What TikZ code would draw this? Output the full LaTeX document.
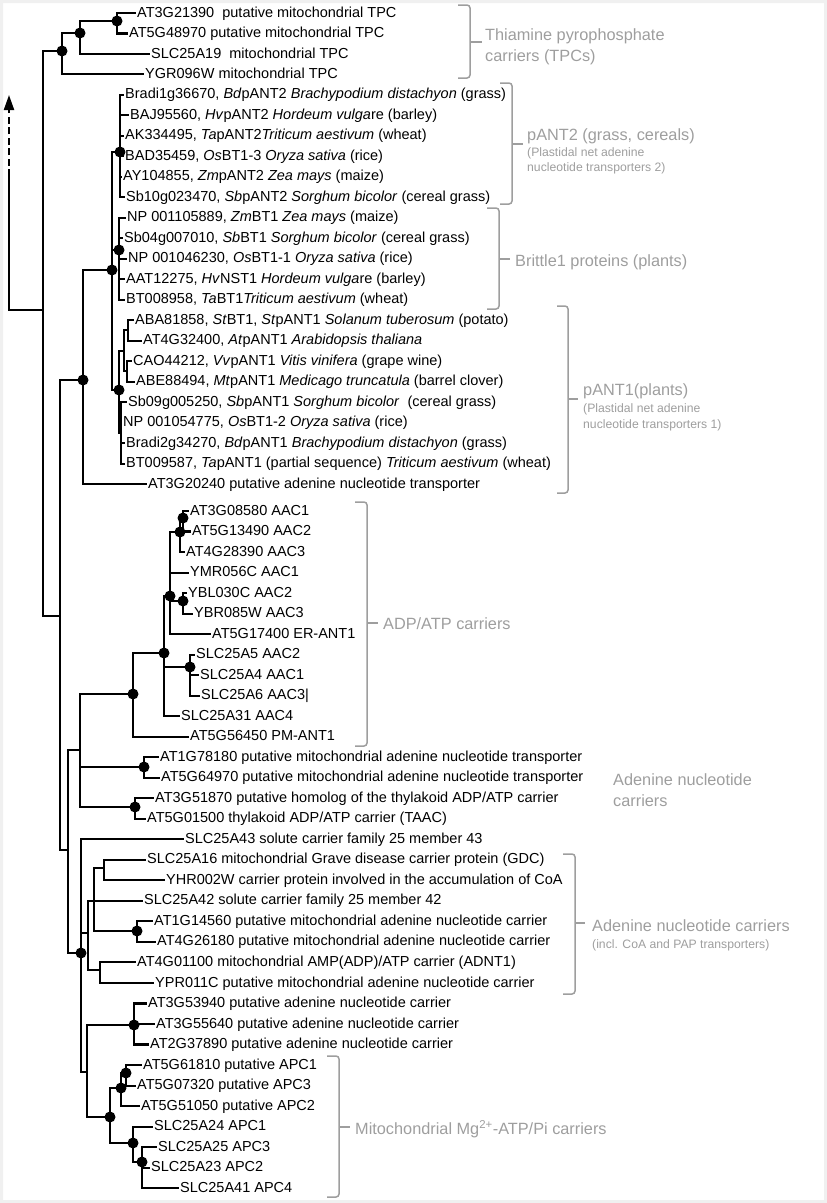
\documentclass[tikz,border=0pt]{standalone}
\usepackage{fontspec}
\setmainfont{Liberation Sans}
\usetikzlibrary{arrows.meta}
\definecolor{labgray}{RGB}{158,158,158}
\newcommand\leafsize{\fontsize{14.5}{16}\selectfont}
\newcommand\lblsize{\fontsize{16.3}{18}\selectfont}
\newcommand\subsize{\fontsize{12.2}{14}\selectfont}
\begin{document}
\begin{tikzpicture}[x=1pt,y=-1pt,
  br/.style={line width=2.1pt, line cap=rect},
  leaf/.style={anchor=west, inner xsep=2pt, inner ysep=0pt, text height=8pt, text depth=0pt, font=\leafsize},
  lab/.style={anchor=west, inner sep=0pt, text height=11pt, text depth=0pt, text=labgray, font=\lblsize},
  sublab/.style={anchor=west, inner sep=0pt, text height=8.5pt, text depth=0pt, text=labgray, font=\subsize},
  brk/.style={draw=labgray, line width=1.5pt, rounded corners=3pt}]
\useasboundingbox (0,0) rectangle (827,1203);
\fill[gray!12, even odd rule] (0,0) rectangle (827,1203) (3,3) rectangle (824,1200);

% ---------- internal nodes ----------
\coordinate (root) at (9,310);
\coordinate (dashstart) at (9,176);
\coordinate (tip) at (9,95);
\coordinate (n1) at (43,310);
\coordinate (t0) at (62,51);
\coordinate (t1) at (80,33);
\coordinate (t2) at (117,21);
\coordinate (n2) at (60,616);
\coordinate (pl) at (83,380);
\coordinate (p) at (112,270);
\coordinate (a2) at (120,152);
\coordinate (bt) at (119,250);
\coordinate (a1) at (119,390);
\coordinate (b) at (124,351);
\coordinate (a) at (128,330);
\coordinate (c) at (127,371);
\coordinate (d) at (121,433);
\coordinate (n3) at (68,850);
\coordinate (n4) at (80,750);
\coordinate (e) at (133,694);
\coordinate (f) at (164,653);
\coordinate (g) at (170,596);
\coordinate (h) at (180,532);
\coordinate (h2) at (183,518);
\coordinate (ye) at (183,601);
\coordinate (s) at (190,667);
\coordinate (pr1) at (144,767);
\coordinate (pr2) at (135,807);
\coordinate (n5) at (81,953);
\coordinate (k) at (88,933);
\coordinate (m) at (94,901);
\coordinate (gd) at (104,868);
\coordinate (ap) at (137,931);
\coordinate (q) at (100,970);
\coordinate (l) at (87,1072);
\coordinate (tr) at (134,1025);
\coordinate (u) at (110,1117);
\coordinate (v) at (121,1088);
\coordinate (v2) at (126,1073);
\coordinate (w) at (133,1143);
\coordinate (xx) at (142,1162);

% ---------- leaves ----------
\node[leaf] (L1) at (135,13) {AT3G21390~ putative mitochondrial TPC};
\node[leaf] (L2) at (127,33.5) {AT5G48970 putative mitochondrial TPC};
\node[leaf] (L3) at (149,54) {SLC25A19~ mitochondrial TPC};
\node[leaf] (L4) at (143,74.4) {YGR096W mitochondrial TPC};
\node[leaf] (L5) at (123,94.9) {Bradi1g36670, \textit{Bd}pANT2 \textit{Brachypodium distachyon} (grass)};
\node[leaf] (L6) at (128,115.4) {BAJ95560, \textit{Hv}pANT2 \textit{Hordeum vulga}re (barley)};
\node[leaf] (L7) at (123,135.9) {AK334495, \textit{Ta}pANT2\textit{Triticum aestivum} (wheat)};
\node[leaf] (L8) at (123,156.4) {BAD35459, \textit{Os}BT1-3 \textit{Oryza sativa} (rice)};
\node[leaf] (L9) at (121,176.8) {AY104855, \textit{Zm}pANT2 \textit{Zea mays} (maize)};
\node[leaf] (L10) at (124,197.3) {Sb10g023470, \textit{Sb}pANT2 \textit{Sorghum bicolor} (cereal grass)};
\node[leaf] (L11) at (125,217.8) {NP 001105889, \textit{Zm}BT1 \textit{Zea mays} (maize)};
\node[leaf] (L12) at (122,238.3) {Sb04g007010, \textit{Sb}BT1 \textit{Sorghum bicolor} (cereal grass)};
\node[leaf] (L13) at (126,258.8) {NP 001046230, \textit{Os}BT1-1 \textit{Oryza sativa} (rice)};
\node[leaf] (L14) at (124,279.2) {AAT12275, \textit{Hv}NST1 \textit{Hordeum vulga}re (barley)};
\node[leaf] (L15) at (124,299.7) {BT008958, \textit{Ta}BT1\textit{Triticum aestivum} (wheat)};
\node[leaf] (L16) at (133,320.2) {ABA81858, \textit{St}BT1, \textit{St}pANT1 \textit{Solanum tuberosum} (potato)};
\node[leaf] (L17) at (141,340.7) {AT4G32400, \textit{At}pANT1 \textit{Arabidopsis thaliana}};
\node[leaf] (L18) at (131,361.2) {CAO44212, \textit{Vv}pANT1 \textit{Vitis vinifera} (grape wine)};
\node[leaf] (L19) at (134,381.6) {ABE88494, \textit{Mt}pANT1 \textit{Medicago truncatula} (barrel clover)};
\node[leaf] (L20) at (126,402.1) {Sb09g005250, \textit{Sb}pANT1 \textit{Sorghum bicolor}~ (cereal grass)};
\node[leaf] (L21) at (121,422.6) {NP 001054775, \textit{Os}BT1-2 \textit{Oryza sativa} (rice)};
\node[leaf] (L22) at (124,443.1) {Bradi2g34270, \textit{Bd}pANT1 \textit{Brachypodium distachyon} (grass)};
\node[leaf] (L23) at (124,463.6) {BT009587, \textit{Ta}pANT1 (partial sequence) \textit{Triticum aestivum} (wheat)};
\node[leaf] (L24) at (146,484) {AT3G20240 putative adenine nucleotide transporter};
\node[leaf] (L25) at (188,511) {AT3G08580 AAC1};
\node[leaf] (L26) at (190,531.5) {AT5G13490 AAC2};
\node[leaf] (L27) at (184,552) {AT4G28390 AAC3};
\node[leaf] (L28) at (188,572.6) {YMR056C AAC1};
\node[leaf] (L29) at (186,593.1) {YBL030C AAC2};
\node[leaf] (L30) at (192,613.6) {YBR085W AAC3};
\node[leaf] (L31) at (210,634.1) {AT5G17400 ER-ANT1};
\node[leaf] (L32) at (194,654.6) {SLC25A5 AAC2};
\node[leaf] (L33) at (198,675.2) {SLC25A4 AAC1};
\node[leaf] (L34) at (199,695.7) {SLC25A6 AAC3|};
\node[leaf] (L35) at (179,716.2) {SLC25A31 AAC4};
\node[leaf] (L36) at (188,736.7) {AT5G56450 PM-ANT1};
\node[leaf] (L37) at (158,757.2) {AT1G78180 putative mitochondrial adenine nucleotide transporter};
\node[leaf] (L38) at (159,777.8) {AT5G64970 putative mitochondrial adenine nucleotide transporter};
\node[leaf] (L39) at (153,798.3) {AT3G51870 putative homolog of the thylakoid ADP/ATP carrier};
\node[leaf] (L40) at (145,818.8) {AT5G01500 thylakoid ADP/ATP carrier (TAAC)};
\node[leaf] (L41) at (183,839.3) {SLC25A43 solute carrier family 25 member 43};
\node[leaf] (L42) at (145,859.8) {SLC25A16 mitochondrial Grave disease carrier protein (GDC)};
\node[leaf] (L43) at (164,880.4) {YHR002W carrier protein involved in the accumulation of CoA};
\node[leaf] (L44) at (142,900.9) {SLC25A42 solute carrier family 25 member 42};
\node[leaf] (L45) at (152,921.4) {AT1G14560 putative mitochondrial adenine nucleotide carrier};
\node[leaf] (L46) at (155,941.9) {AT4G26180 putative mitochondrial adenine nucleotide carrier};
\node[leaf] (L47) at (135,962.4) {AT4G01100 mitochondrial AMP(ADP)/ATP carrier (ADNT1)};
\node[leaf] (L48) at (153,983) {YPR011C putative mitochondrial adenine nucleotide carrier};
\node[leaf] (L49) at (146,1003.5) {AT3G53940 putative adenine nucleotide carrier};
\node[leaf] (L50) at (154,1024) {AT3G55640 putative adenine nucleotide carrier};
\node[leaf] (L51) at (148,1044.5) {AT2G37890 putative adenine nucleotide carrier};
\node[leaf] (L52) at (141,1065) {AT5G61810 putative APC1};
\node[leaf] (L53) at (135,1085.6) {AT5G07320 putative APC3};
\node[leaf] (L54) at (139,1106.1) {AT5G51050 putative APC2};
\node[leaf] (L55) at (152,1126.6) {SLC25A24 APC1};
\node[leaf] (L56) at (156,1147.1) {SLC25A25 APC3};
\node[leaf] (L57) at (149,1167.6) {SLC25A23 APC2};
\node[leaf] (L58) at (178,1188.2) {SLC25A41 APC4};

% ---------- root and arrow ----------
\draw[br] (root) -- (n1);
\draw[br] (root) -- (dashstart);
\draw[line width=2.1pt, dash pattern=on 7pt off 3.5pt, -{Triangle[length=15pt,width=10pt]}] (dashstart) -- (tip);

% ---------- internal edges ----------
\foreach \pa/\ch in {n1/t0, n1/n2, t0/t1, t1/t2, n2/pl, n2/n3, pl/p, p/a2, p/bt, p/a1,
  a1/b, a1/d, b/a, b/c, n3/n4, n3/n5, n4/e, n4/pr1, n4/pr2, e/f, f/g, f/s, g/h, g/ye, h/h2,
  n5/k, n5/l, k/m, k/q, m/gd, m/ap, l/tr, l/u, u/v, u/w, v/v2, w/xx}
  \draw[br] (\pa) |- (\ch);

% ---------- leaf edges ----------
\foreach \pa/\i in {t2/1, t2/2, t1/3, t0/4, a2/5, a2/6, a2/7, a2/8, a2/9, a2/10,
  bt/11, bt/12, bt/13, bt/14, bt/15, a/16, a/17, c/18, c/19, d/20, d/21, d/22, d/23, pl/24,
  h2/25, h2/26, h/27, g/28, ye/29, ye/30, g/31, s/32, s/33, s/34, f/35, e/36,
  pr1/37, pr1/38, pr2/39, pr2/40, n5/41, gd/42, gd/43, m/44, ap/45, ap/46, q/47, q/48,
  tr/49, tr/50, tr/51, v2/52, v2/53, v/54, w/55, xx/56, xx/57, xx/58}
  \draw[br] (\pa) |- (L\i.west);

% ---------- dots ----------
\foreach \n in {t0,t1,t2,pl,p,a2,bt,a1,e,f,g,h,h2,ye,s,pr1,pr2,n5,ap,tr,u,v,v2,w,xx}
  \fill (\n) circle (5.5pt);

% ---------- brackets ----------
\draw[brk] (458,5) -- (470,5) -- (470,78) -- (458,78);
\draw[brk] (470,42) -- (482,42);
\draw[brk] (500,83) -- (512,83) -- (512,204) -- (500,204);
\draw[brk] (512,144) -- (523,144);
\draw[brk] (487,208) -- (499,208) -- (499,309) -- (487,309);
\draw[brk] (499,259) -- (510,259);
\draw[brk] (557,306) -- (568,306) -- (568,493) -- (557,493);
\draw[brk] (568,399) -- (578,399);
\draw[brk] (355,502) -- (367,502) -- (367,746) -- (355,746);
\draw[brk] (367,623) -- (378,623);
\draw[brk] (563,854) -- (575,854) -- (575,994) -- (563,994);
\draw[brk] (575,923) -- (585,923);
\draw[brk] (327,1056) -- (339,1056) -- (339,1197) -- (327,1197);
\draw[brk] (339,1127) -- (350,1127);

% ---------- group labels ----------
\node[lab] (tpcA) at (485,35) {Thiamine pyrophosphate};
\node[lab] (tpcB) at (485,56) {carriers (TPCs)};
\node[lab] (ant2A) at (527,135) {pANT2 (grass, cereals)};
\node[sublab] (ant2B) at (527,152) {(Plastidal net adenine};
\node[sublab] (ant2C) at (527,167) {nucleotide transporters 2)};
\node[lab] (bt1) at (515,261) {Brittle1 proteins (plants)};
\node[lab] (ant1A) at (583,390) {pANT1(plants)};
\node[sublab] (ant1B) at (583,408) {(Plastidal net adenine};
\node[sublab] (ant1C) at (583,424) {nucleotide transporters 1)};
\node[lab] (adp) at (383,624) {ADP/ATP carriers};
\node[lab] (anA) at (613,780) {Adenine nucleotide};
\node[lab] (anB) at (613,801) {carriers};
\node[lab] (coaA) at (592,926) {Adenine nucleotide carriers};
\node[sublab] (coaB) at (592,944) {(incl. CoA and PAP transporters)};
\node[lab] (apc) at (355,1129) {Mitochondrial Mg\textsuperscript{2+}-ATP/Pi carriers};
\end{tikzpicture}
\end{document}
